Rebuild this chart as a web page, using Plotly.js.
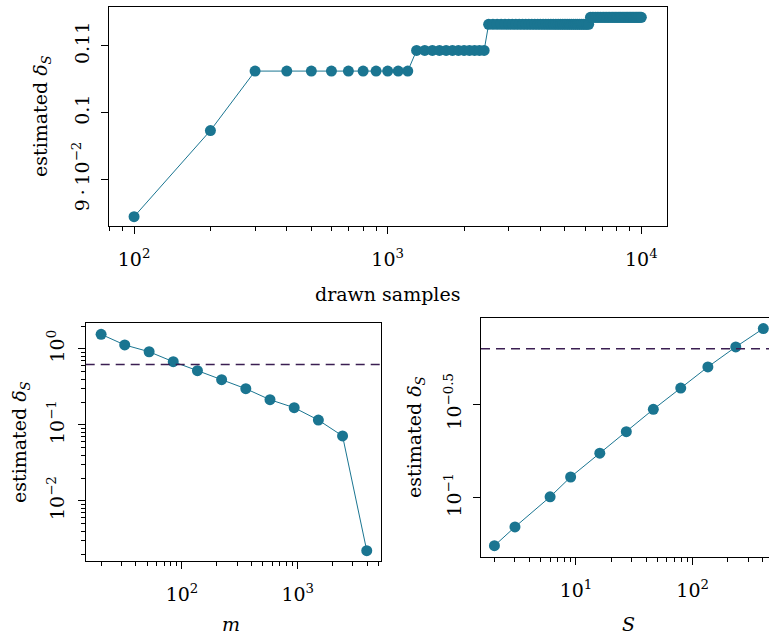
<!DOCTYPE html>
<html>
<head>
<meta charset="utf-8">
<script src="https://cdn.plot.ly/plotly-3.0.1.min.js"></script>
<style>html,body{margin:0;padding:0;background:#fff;}#chart{width:769px;height:639px;}</style>
</head>
<body>
<div id="chart"></div>
<script>
// Top panel: drawn samples vs estimated delta_S
const drawnSamples = [100,200,300,400,500,600,700,800,900,1000,
  1100,1200,1300,1400,1500,1600,1700,1800,1900,2000,
  2100,2200,2300,2400,2500,2600,2700,2800,2900,3000,
  3100,3200,3300,3400,3500,3600,3700,3800,3900,4000,
  4100,4200,4300,4400,4500,4600,4700,4800,4900,5000,
  5100,5200,5300,5400,5500,5600,5700,5800,5900,6000,
  6100,6200,6300,6400,6500,6600,6700,6800,6900,7000,
  7100,7200,7300,7400,7500,7600,7700,7800,7900,8000,
  8100,8200,8300,8400,8500,8600,8700,8800,8900,9000,
  9100,9200,9300,9400,9500,9600,9700,9800,9900,10000];
const deltaSamples = [0.0844,0.0973,0.1062,0.1062,0.1062,0.1062,0.1062,0.1062,0.1062,0.1062,
  0.1062,0.1062,0.1093,0.1093,0.1093,0.1093,0.1093,0.1093,0.1093,0.1093,
  0.1093,0.1093,0.1093,0.1093,0.1132,0.1132,0.1132,0.1132,0.1132,0.1132,
  0.1132,0.1132,0.1132,0.1132,0.1132,0.1132,0.1132,0.1132,0.1132,0.1132,
  0.1132,0.1132,0.1132,0.1132,0.1132,0.1132,0.1132,0.1132,0.1132,0.1132,
  0.1132,0.1132,0.1132,0.1132,0.1132,0.1132,0.1132,0.1132,0.1132,0.1132,
  0.1132,0.1132,0.11425,0.11425,0.11425,0.11425,0.11425,0.11425,0.11425,0.11425,
  0.11425,0.11425,0.11425,0.11425,0.11425,0.11425,0.11425,0.11425,0.11425,0.11425,
  0.11425,0.11425,0.11425,0.11425,0.11425,0.11425,0.11425,0.11425,0.11425,0.11425,
  0.11425,0.11425,0.11425,0.11425,0.11425,0.11425,0.11425,0.11425,0.11425,0.11425];

// Bottom-left panel: m vs estimated delta_S
const mValues = [20,32,52,84,136,220,356,576,932,1508,2440,3948];
const deltaM = [1.56,1.13,0.92,0.68,0.519,0.394,0.30,0.215,0.169,0.116,0.0717,0.00222];

// Bottom-right panel: S vs estimated delta_S
const sValues = [2,3,6,9,16,27,46,79,135,234,403];
const deltaS = [0.0553,0.0697,0.101,0.129,0.173,0.2255,0.297,0.386,0.501,0.641,0.804];

// Threshold (dashed line)
const threshold = 0.627;

// Tick labels
const topXTickVals = [100, 1000, 10000];
const topXTickText = ['10<sup>2</sup>', '10<sup>3</sup>', '10<sup>4</sup>'];
const topYTickVals = [0.09, 0.1, 0.11];
const topYTickText = ['9\u2009\u00b7\u200910<sup>\u22122</sup>', '0.1', '0.11'];
const blXTickVals = [100, 1000];
const blXTickText = ['10<sup>2</sup>', '10<sup>3</sup>'];
const blYTickVals = [1, 0.1, 0.01];
const blYTickText = ['10<sup>0</sup>', '10<sup>\u22121</sup>', '10<sup>\u22122</sup>'];
const brXTickVals = [10, 100];
const brXTickText = ['10<sup>1</sup>', '10<sup>2</sup>'];
const brYTickVals = [0.1, 0.31622776601683794];
const brYTickText = ['10<sup>\u22121</sup>', '10<sup>\u22120.5</sup>'];

const teal = '#1a7591';
const purple = '#3b1e52';
const FONT = '"DejaVu Serif", serif';
const fs = 19;

function pxX(p){return p/769;}
function pxY(p){return 1 - p/639;}

const marker = {color: teal, size: 11};
const line = {color: teal, width: 1};

const traces = [
  {x: drawnSamples, y: deltaSamples, xaxis:'x', yaxis:'y', mode:'lines+markers', marker, line},
  {x: mValues, y: deltaM, xaxis:'x2', yaxis:'y2', mode:'lines+markers', marker, line},
  {x: sValues, y: deltaS, xaxis:'x3', yaxis:'y3', mode:'lines+markers', marker, line}
];

const baseAxis = {
  showgrid:false, zeroline:false, showline:true, linecolor:'#000', linewidth:1,
  ticks:'outside', ticklen:7, tickcolor:'#000', tickwidth:1, ticklabelstandoff:4,
  tickfont:{family:FONT, size:fs, color:'#000'}
};
const minorLog = {ticks:'outside', ticklen:4, tickcolor:'#000', dtick:'D1', showgrid:false};
const logX = Object.assign({}, baseAxis, {type:'log', mirror:true, minor:minorLog, ticklabelstandoff:9});

const layout = {
  width:769, height:639,
  margin:{l:0, r:0, t:0, b:0},
  paper_bgcolor:'#fff', plot_bgcolor:'#fff',
  showlegend:false,
  font:{family:FONT, size:fs, color:'#000'},
  xaxis: Object.assign({}, logX, {domain:[pxX(108.7), pxX(666.7)], range:[1.9, 4.1], anchor:'y',
    tickvals: topXTickVals, ticktext: topXTickText}),
  yaxis: Object.assign({}, baseAxis, {domain:[pxY(226), pxY(7.3)], range:[0.08301, 0.11575], anchor:'x',
    tickvals: topYTickVals, ticktext: topYTickText, tickangle:-90, mirror:true}),
  xaxis2: Object.assign({}, logX, {domain:[pxX(85.7), pxX(380.7)], range:[1.168, 3.717], anchor:'y2',
    tickvals: blXTickVals, ticktext: blXTickText}),
  yaxis2: Object.assign({}, baseAxis, {type:'log', domain:[pxY(560.7), pxY(323.3)], range:[-2.786, 0.338], anchor:'x2',
    tickvals: blYTickVals, ticktext: blYTickText, tickangle:-90, mirror:true, minor:minorLog, ticklabelstandoff:6}),
  xaxis3: Object.assign({}, logX, {domain:[pxX(481), 1], range:[0.186, 2.654], anchor:'y3',
    tickvals: brXTickVals, ticktext: brXTickText}),
  yaxis3: Object.assign({}, baseAxis, {type:'log', domain:[pxY(556.7), pxY(318.3)], range:[-1.316, -0.04], anchor:'x3',
    tickvals: brYTickVals, ticktext: brYTickText, tickangle:-90, mirror:false}),
  shapes: [
    {type:'line', xref:'x2 domain', x0:0, x1:1, yref:'y2', y0:threshold, y1:threshold, line:{color:purple, width:1.5, dash:'9px,6px'}},
    {type:'line', xref:'x3 domain', x0:0, x1:1, yref:'y3', y0:threshold, y1:threshold, line:{color:purple, width:1.5, dash:'9px,6px'}}
  ],
  annotations: [
    {text:'drawn samples', xref:'paper', yref:'paper', x:pxX(387), y:pxY(294), xanchor:'center', yanchor:'middle', showarrow:false, font:{family:FONT, size:fs}},
    {text:'estimated <i>\u03b4</i><sub><i>S</i></sub>', xref:'paper', yref:'paper', x:pxX(42), y:pxY(116), textangle:-90, xanchor:'center', yanchor:'middle', showarrow:false, font:{family:FONT, size:fs}},
    {text:'estimated <i>\u03b4</i><sub><i>S</i></sub>', xref:'paper', yref:'paper', x:pxX(20), y:pxY(442), textangle:-90, xanchor:'center', yanchor:'middle', showarrow:false, font:{family:FONT, size:fs}},
    {text:'estimated <i>\u03b4</i><sub><i>S</i></sub>', xref:'paper', yref:'paper', x:pxX(415), y:pxY(437), textangle:-90, xanchor:'center', yanchor:'middle', showarrow:false, font:{family:FONT, size:fs}},
    {text:'<i>m</i>', xref:'paper', yref:'paper', x:pxX(231), y:pxY(624), xanchor:'center', yanchor:'middle', showarrow:false, font:{family:FONT, size:fs}},
    {text:'<i>S</i>', xref:'paper', yref:'paper', x:pxX(628), y:pxY(624), xanchor:'center', yanchor:'middle', showarrow:false, font:{family:FONT, size:fs}}
  ]
};

Plotly.newPlot('chart', traces, layout, {displayModeBar:false, staticPlot:true});
</script>
</body>
</html>
